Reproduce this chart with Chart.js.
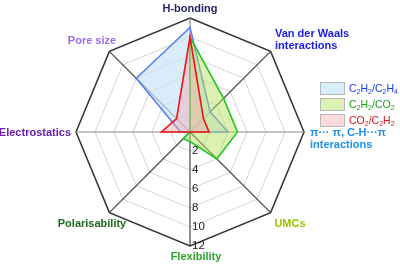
<!DOCTYPE html>
<html>
<head>
<meta charset="utf-8">
<script src="https://cdn.jsdelivr.net/npm/chart.js@4.4.1/dist/chart.umd.min.js"></script>
<style>
  html, body { margin: 0; padding: 0; background: #fff; }
  #wrap { position: relative; width: 400px; height: 266px; }
  #legend { position: absolute; left: 320px; top: 82px; font-family: "Liberation Sans", Arial, sans-serif; font-size: 10.5px; }
  #legend div { height: 16px; line-height: 13px; white-space: nowrap; }
  #legend span.box { display: inline-block; width: 23px; height: 11px; border: 1px solid #b8b8b8; vertical-align: top; margin-right: 4px; }
  #legend sub { font-size: 7px; vertical-align: -2px; line-height: 0; }
</style>
</head>
<body>
<div id="wrap">
  <canvas id="myChart" width="400" height="266"></canvas>
  <div id="legend">
    <div style="color:#1a3cf0"><span class="box" style="background:#d8edfb"></span>C<sub>2</sub>H<sub>2</sub>/C<sub>2</sub>H<sub>4</sub></div>
    <div style="color:#1c9a1c"><span class="box" style="background:#dcf2b4"></span>C<sub>2</sub>H<sub>2</sub>/CO<sub>2</sub></div>
    <div style="color:#e01515"><span class="box" style="background:#fcdadd"></span>CO<sub>2</sub>/C<sub>2</sub>H<sub>2</sub></div>
  </div>
</div>
<script>
// axes, clockwise from the top
var labels = ['H-bonding', 'Van der Waals interactions', 'π··· π, C-H···π interactions', 'UMCs',
              'Flexibility', 'Polarisability', 'Electrostatics', 'Pore size'];
var c2h2c2h4 = [11, 3, 4, 0, 0, 0, 1, 8];
var c2h2co2  = [10, 5, 5, 4, 1, 1, 0, 0];
var co2c2h2  = [10, 2, 2, 0, 0, 0, 3, 2];
var tickValues = [2, 4, 6, 8, 10, 12];

// label text and where it sits
var labelLines = [['H-bonding'], ['Van der Waals', 'interactions'], ['π··· π, C-H···π', 'interactions'], ['UMCs'],
                  ['Flexibility'], ['Polarisability'], ['Electrostatics'], ['Pore size']];
var labelColors = ['#1f1f6b', '#1a1ae6', '#1e90e8', '#99c400', '#2aa52a', '#1d6b1d', '#6b1fb0', '#9a6cf0'];
var labelSpots = [[190, 9, 'center'], [275, 34, 'left'], [310, 133, 'left'], [290, 224, 'center'],
                  [196, 257, 'center'], [92, 224, 'center'], [71, 133, 'right'], [92, 41, 'center']];

var textPlugin = {
    id: 'texts',
    afterDraw: function(chart){
        var ctx = chart.ctx;
        var r = chart.scales.r;
        ctx.save();
        ctx.textBaseline = 'middle';
        ctx.font = 'bold 11px "Liberation Sans", Arial, sans-serif';
        for (var i = 0; i < labelLines.length; i++) {
            ctx.fillStyle = labelColors[i];
            ctx.textAlign = labelSpots[i][2];
            for (var j = 0; j < labelLines[i].length; j++) {
                ctx.fillText(labelLines[i][j], labelSpots[i][0], labelSpots[i][1] + j * 12);
            }
        }
        // tick labels down the Flexibility axis
        ctx.font = '11.5px "Liberation Sans", Arial, sans-serif';
        ctx.fillStyle = '#222';
        ctx.textAlign = 'left';
        tickValues.forEach(function(v){
            var p = r.getPointPositionForValue(4, v);
            ctx.fillText(String(v), p.x + 2, p.y);
        });
        ctx.restore();
    }
};

var ctx = document.getElementById('myChart').getContext('2d');
var chart = new Chart(ctx, {
    type: 'radar',
    data: {
        labels: labels,
        datasets: [{
            label: 'CO2/C2H2',
            data: co2c2h2,
            borderColor: '#ee1414',
            backgroundColor: 'rgba(246,170,180,0.45)',
            borderWidth: 1.6,
            order: 0
        }, {
            label: 'C2H2/CO2',
            data: c2h2co2,
            borderColor: '#22c822',
            backgroundColor: 'rgba(185,225,100,0.5)',
            borderWidth: 1.6,
            order: 1
        }, {
            label: 'C2H2/C2H4',
            data: c2h2c2h4,
            borderColor: '#5a7ef0',
            backgroundColor: 'rgba(200,228,250,0.7)',
            borderWidth: 1.6,
            order: 2
        }]
    },
    options: {
        responsive: false,
        animation: false,
        layout: { padding: { left: 76, right: 96, top: 18, bottom: 20 } },
        elements: { point: { radius: 0, hoverRadius: 0 }, line: { tension: 0 } },
        plugins: { legend: { display: false }, tooltip: { enabled: false } },
        scales: {
            r: {
                min: 0,
                max: 12,
                ticks: { stepSize: 2, display: false },
                pointLabels: { display: false },
                grid: {
                    color: function(c){ return c.tick && c.tick.value === 12 ? '#333' : '#d4d4d4'; },
                    lineWidth: function(c){ return c.tick && c.tick.value === 12 ? 1.5 : 1; }
                },
                angleLines: {
                    color: function(c){ return (c.index === 2 || c.index === 6 || c.index === 0) ? '#8a8a8a' : '#444'; },
                    lineWidth: 1.2
                }
            }
        }
    },
    plugins: [textPlugin]
});
</script>
</body>
</html>
